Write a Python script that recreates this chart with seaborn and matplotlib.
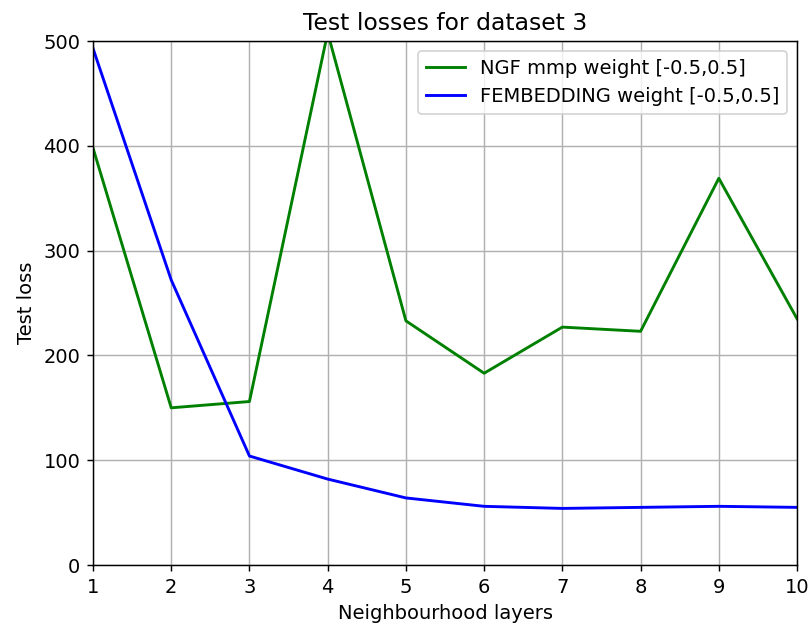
import matplotlib
matplotlib.use("Agg")
import matplotlib.pyplot as plt
import seaborn as sns
import pandas as pd

layers = [1, 2, 3, 4, 5, 6, 7, 8, 9, 10]
ngf_loss = [398, 150, 156, 508, 233, 183, 227, 223, 369, 235]
fembedding_loss = [493, 272, 104, 82, 64, 56, 54, 55, 56, 55]
series_names = ["NGF mmp weight [-0.5,0.5]", "FEMBEDDING weight [-0.5,0.5]"]
series_colors = ["green", "blue"]

df = pd.concat([
    pd.DataFrame({"layers": layers, "loss": ngf_loss, "model": series_names[0]}),
    pd.DataFrame({"layers": layers, "loss": fembedding_loss, "model": series_names[1]}),
])

DPI = 130
fig, ax = plt.subplots(figsize=(810 / DPI, 628 / DPI), dpi=DPI)
sns.lineplot(data=df, x="layers", y="loss", hue="model",
             palette=dict(zip(series_names, series_colors)), ax=ax, linewidth=1.6)

ax.set_xlim(1, 10)
ax.set_ylim(0, 500)
ax.set_xticks(layers)
ax.grid(True)
ax.set_title("Test losses for dataset 3", fontsize=13)
ax.set_xlabel("Neighbourhood layers", fontsize=10.8)
ax.set_ylabel("Test loss", fontsize=10.8)
ax.tick_params(labelsize=10.8)
ax.legend(title=None, loc="upper right", fontsize=10.8)

fig.subplots_adjust(left=0.1148, right=0.984, top=0.9347, bottom=0.1003)
fig.savefig("out.png", dpi=DPI)
